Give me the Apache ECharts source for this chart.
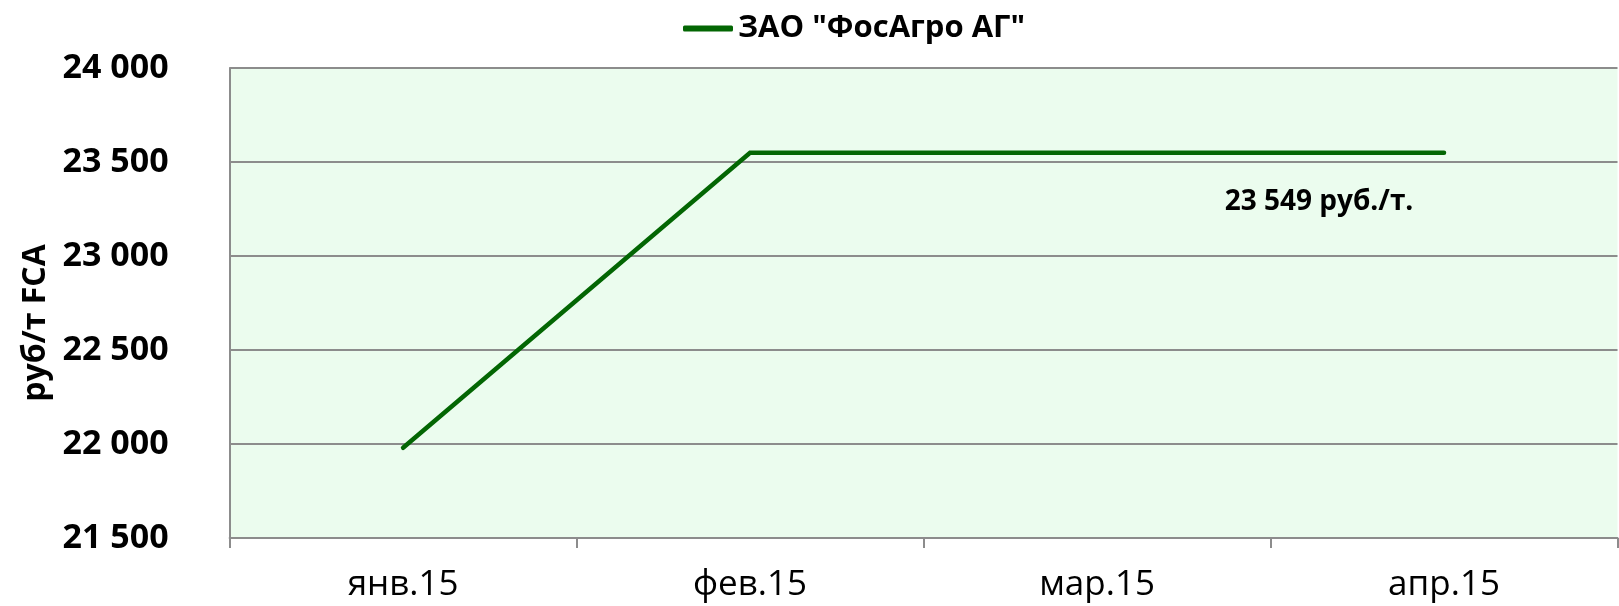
<!DOCTYPE html>
<html>
<head>
<meta charset="utf-8">
<script src="https://cdn.jsdelivr.net/npm/echarts@6/dist/echarts.min.js"></script>
<style>
html,body{margin:0;padding:0;background:#fff;}
#chart{width:1619px;height:606px;}
</style>
</head>
<body>
<div id="chart"></div>
<script>
const categories = ['янв.15', 'фев.15', 'мар.15', 'апр.15'];
const seriesName = 'ЗАО "ФосАгро АГ"';
const values = [21980, 23549, 23549, 23549];
const yTicks = [21500, 22000, 22500, 23000, 23500, 24000];
const yAxisTitle = 'руб/т FCA';
const labelIndex = 3;

function fmt(v){ return String(v).replace(/\B(?=(\d{3})+(?!\d))/g, ' '); }

const FONT = '"Open Sans", "Noto Sans", sans-serif';
const chart = echarts.init(document.getElementById('chart'));

const data = values.map((v, i) => i === labelIndex ? {
  value: v,
  label: {
    show: true,
    position: 'bottom',
    offset: [-125, 30],
    formatter: p => fmt(p.value) + ' руб./т.',
    fontFamily: FONT, fontWeight: 'bold', fontSize: 28, color: '#000'
  }
} : v);

chart.setOption({
  animation: false,
  backgroundColor: '#fff',
  legend: {
    left: 678, top: 8,
    itemWidth: 50, itemHeight: 6, itemGap: 10,
    icon: 'roundRect',
    textStyle: {fontFamily: FONT, fontWeight: 'bold', fontSize: 31, color: '#000'},
    data: [seriesName]
  },
  grid: {
    left: 229.6, right: 1.5, top: 68, bottom: 68,
    show: true, backgroundColor: '#EBFCEE', borderWidth: 0
  },
  xAxis: {
    type: 'category', data: categories, boundaryGap: true,
    axisLine: {show: true, lineStyle: {color: '#8c8c8c', width: 2}},
    axisTick: {show: true, length: 10, lineStyle: {color: '#8c8c8c', width: 2}},
    axisLabel: {margin: 30, fontFamily: FONT, fontSize: 35, color: '#000'},
    splitLine: {show: false}
  },
  yAxis: {
    type: 'value', min: yTicks[0], max: yTicks[yTicks.length-1], interval: 500,
    name: yAxisTitle, nameLocation: 'middle', nameRotate: 90, nameGap: 176,
    nameTextStyle: {fontFamily: FONT, fontWeight: 'bold', fontSize: 32, color: '#000', padding: [0, 40, 0, 0]},
    axisLine: {show: true, lineStyle: {color: '#8c8c8c', width: 2}},
    axisTick: {show: false},
    axisLabel: {margin: 61, fontFamily: FONT, fontWeight: 'bold', fontSize: 34, color: '#000', formatter: v => fmt(v)},
    splitLine: {show: true, lineStyle: {color: '#8c8c8c', width: 2}}
  },
  series: [{
    name: seriesName, type: 'line', data: data,
    symbol: 'circle', symbolSize: 0, showSymbol: true,
    lineStyle: {color: '#036603', width: 4.5, cap: 'round', join: 'miter'},
    itemStyle: {color: '#036603'},
    z: 5
  }]
});
</script>
</body>
</html>
